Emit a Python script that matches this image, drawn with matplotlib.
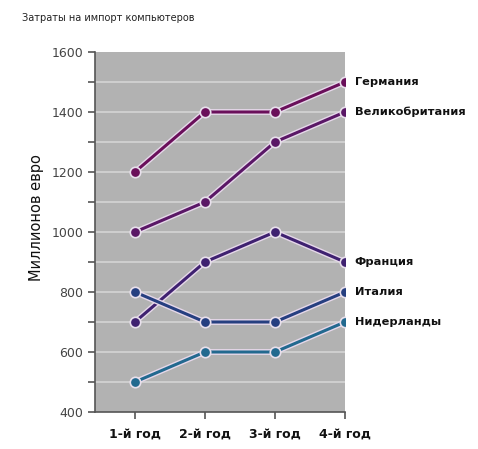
import matplotlib.pyplot as plt
import matplotlib.patheffects as pe

# Data
years = ['1-й год', '2-й год', '3-й год', '4-й год']
germany = [1200, 1400, 1400, 1500]
britain = [1000, 1100, 1300, 1400]
france = [700, 900, 1000, 900]
italy = [800, 700, 700, 800]
netherlands = [500, 600, 600, 700]

series = [
    ('Германия', germany, '#6a0f5a'),
    ('Великобритания', britain, '#5a1766'),
    ('Франция', france, '#3f2170'),
    ('Италия', italy, '#263f80'),
    ('Нидерланды', netherlands, '#22698f'),
]

fig = plt.figure(figsize=(4.78, 4.49), dpi=100)
ax = fig.add_axes([95/478, 37/449, 250/478, 360/449])
ax.set_facecolor('#b2b2b2')

x = [1, 2, 3, 4]
halo = [pe.Stroke(linewidth=4.2, foreground='#e6d8ea'), pe.Normal()]
for name, vals, col in series:
    ax.plot(x, vals, color=col, lw=2.2, path_effects=halo, zorder=3,
            solid_capstyle='round')
    ax.plot(x, vals, 'o', color=col, ms=7.5, mec='#e8e0ec', mew=1.2, zorder=4)
    ax.text(4.14, vals[-1], name, fontsize=8.2, fontweight='bold',
            va='center', ha='left', color='#111111', clip_on=False)

ax.set_xlim(0.43, 4.0)
ax.set_ylim(400, 1600)
ax.set_yticks(range(400, 1601, 200))
ax.set_yticks(range(500, 1600, 200), minor=True)
ax.set_xticks(x)
ax.set_xticklabels(years, fontsize=9, fontweight='bold', color='#111111')
ax.tick_params(axis='y', labelsize=9, labelcolor='#444444', color='#555555',
               length=5, width=1.2)
ax.tick_params(axis='y', which='minor', length=5, width=1.2, color='#555555')
ax.tick_params(axis='x', length=5, width=1.2, color='#555555', pad=6)
for v in range(500, 1600, 100):
    ax.axhline(v, color='#d4d4d4', lw=1.2, zorder=1)

for s in ['top', 'right']:
    ax.spines[s].set_visible(False)
for s in ['left', 'bottom']:
    ax.spines[s].set_color('#555555')
    ax.spines[s].set_linewidth(1.2)

ax.set_ylabel('Миллионов евро', fontsize=10.5, color='#111111')
ax.yaxis.set_label_coords(-0.205, 0.54)
fig.text(22/478, 1 - 18/449, 'Затраты на импорт компьютеров', fontsize=7,
         color='#222222', va='center', ha='left')

fig.savefig('out.png', dpi=100)
